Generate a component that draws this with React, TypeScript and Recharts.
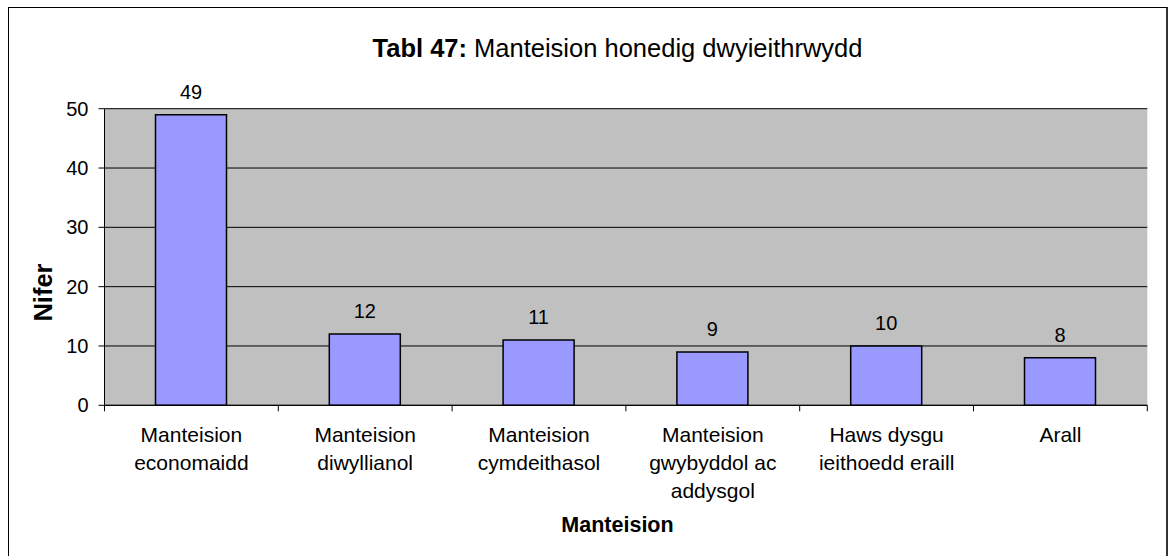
import React from "react";
import {
  Bar,
  BarChart,
  CartesianGrid,
  LabelList,
  XAxis,
  YAxis,
} from "recharts";

const categories = [
  "Manteision economaidd",
  "Manteision diwyllianol",
  "Manteision cymdeithasol",
  "Manteision gwybyddol ac addysgol",
  "Haws dysgu ieithoedd eraill",
  "Arall",
];

const categoryLines = [
  ["Manteision", "economaidd"],
  ["Manteision", "diwyllianol"],
  ["Manteision", "cymdeithasol"],
  ["Manteision", "gwybyddol ac", "addysgol"],
  ["Haws dysgu", "ieithoedd eraill"],
  ["Arall"],
];

const counts = [49, 12, 11, 9, 10, 8];

const yTicks = [0, 10, 20, 30, 40, 50];

const data = categories.map((name, i) => ({ name, value: counts[i] }));

const FONT = "'Liberation Sans', Arial, sans-serif";

const CategoryTick = (props: any) => {
  const { x, y, payload, index } = props;
  const half = payload?.offset ?? 0;
  const lines = categoryLines[index] || [payload.value];
  const last = index === categories.length - 1;
  return (
    <g>
      <line x1={x - half} x2={x - half} y1={y} y2={y + 6} stroke="#000" />
      {last && <line x1={x + half} x2={x + half} y1={y} y2={y + 6} stroke="#000" />}
      <text x={x} y={y + 37} textAnchor="middle" fontSize={21} fill="#000" fontFamily={FONT}>
        {lines.map((l, i) => (
          <tspan key={i} x={x} dy={i === 0 ? 0 : 28}>
            {l}
          </tspan>
        ))}
      </text>
    </g>
  );
};

const App = () => {
  return (
    <div
      style={{
        position: "absolute",
        left: 0,
        top: 0,
        width: 1172,
        height: 556,
        overflow: "hidden",
        background: "#fff",
        fontFamily: FONT,
      }}
    >
      <div
        style={{
          position: "absolute",
          left: 8,
          top: 7,
          width: 1157,
          height: 570,
          borderLeft: "1px solid #000",
          borderTop: "1px solid #000",
          borderRight: "2px solid #333",
        }}
      />
      <div style={{ position: "absolute", left: 0, top: 0 }}>
        <BarChart
          width={1172}
          height={556}
          data={data}
          margin={{ top: 108.7, right: 24.7, left: 44.5, bottom: 50.7 }}
          barSize={71}
        >
          <CartesianGrid vertical={false} fill="#C0C0C0" stroke="#000" />
          <XAxis
            dataKey="name"
            height={100}
            axisLine={{ stroke: "#000" }}
            tickLine={false}
            tickSize={0}
            tickMargin={0}
            interval={0}
            tick={<CategoryTick />}
          />
          <XAxis
            xAxisId="top"
            dataKey="name"
            orientation="top"
            height={0}
            tick={false}
            tickLine={false}
            axisLine={{ stroke: "#808080" }}
          />
          <YAxis
            width={60}
            domain={[0, 50]}
            ticks={yTicks}
            interval={0}
            axisLine={{ stroke: "#000" }}
            tickLine={{ stroke: "#000" }}
            tickSize={6}
            tickMargin={10}
            tick={{ fontSize: 20, fill: "#000", fontFamily: FONT }}
          />
          <YAxis
            yAxisId="right"
            orientation="right"
            width={0}
            domain={[0, 50]}
            tick={false}
            tickLine={false}
            axisLine={{ stroke: "#808080" }}
          />
          <Bar dataKey="value" fill="#9999FF" stroke="#000" strokeWidth={1.5} isAnimationActive={false}>
            <LabelList
              dataKey="value"
              position="top"
              offset={16}
              fontSize={20}
              fill="#000"
              fontFamily={FONT}
            />
          </Bar>
        </BarChart>
      </div>
      <svg
        width={1172}
        height={556}
        style={{ position: "absolute", left: 0, top: 0, pointerEvents: "none" }}
      >
        <text x={617.5} y={57} textAnchor="middle" fontSize={25.5} fill="#000" fontFamily={FONT}>
          <tspan fontWeight="bold">Tabl 47:</tspan>
          <tspan> Manteision honedig dwyieithrwydd</tspan>
        </text>
        <text
          x={51.5}
          y={292.5}
          textAnchor="middle"
          fontSize={25.5}
          fontWeight="bold"
          fill="#000"
          fontFamily={FONT}
          transform="rotate(-90 51.5 292.5)"
        >
          Nifer
        </text>
        <text x={617.5} y={531.5} textAnchor="middle" fontSize={21.5} fontWeight="bold" fill="#000" fontFamily={FONT}>
          Manteision
        </text>
      </svg>
    </div>
  );
};

export default App;
